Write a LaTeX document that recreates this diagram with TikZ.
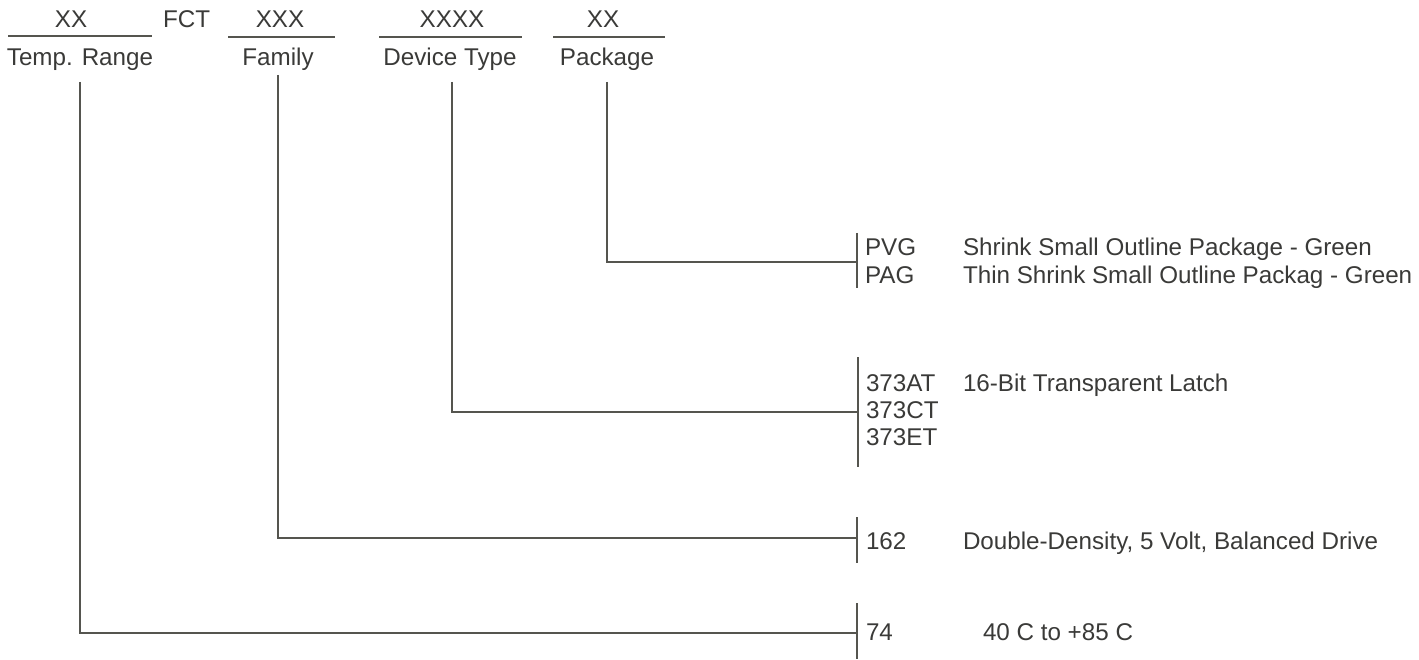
\documentclass[tikz,border=0pt]{standalone}
\usepackage{fontspec}
\setmainfont{Liberation Sans}
\definecolor{txt}{HTML}{3A3A38}
\definecolor{ln}{HTML}{55554F}
\begin{document}
\begin{tikzpicture}[x=1pt,y=-1pt,
  lbl/.style={inner sep=0pt,outer sep=0pt,text=txt,font=\fontsize{24.2}{28}\selectfont},
  lc/.style={lbl,anchor=base},
  lw/.style={lbl,anchor=base west},
  wire/.style={draw=ln,line width=1.4pt},
  bar/.style={draw=ln,line width=1.4pt}]
\useasboundingbox (0,0) rectangle (1419,660);
% top row
\node[lc] (xx1) at (71,28) {XX};
\node[lw] (fct) at (163,28) {FCT};
\node[lc] (xx2) at (280,28) {XXX};
\node[lc] (xx3) at (452,28) {XXXX};
\node[lc] (xx4) at (603,28) {XX};
\draw[wire] (8,36) -- (152,36);
\draw[wire] (228,37) -- (335,37);
\draw[wire] (379,37) -- (522,37);
\draw[wire] (553,37) -- (665,37);
\node[lc] (temp) at (80,66) {Temp. Range};
\node[lc] (fam) at (278,66) {Family};
\node[lc] (dev) at (450,66) {Device Type};
\node[lc] (pkg) at (607,66) {Package};
% bars
\coordinate (pb1) at (857,233); \coordinate (pb2) at (857,288);
\coordinate (db1) at (858,357); \coordinate (db2) at (858,467);
\coordinate (fb1) at (857,517); \coordinate (fb2) at (857,563);
\coordinate (tb1) at (857,603); \coordinate (tb2) at (857,659);
\draw[bar] (pb1) -- (pb2);
\draw[bar] (db1) -- (db2);
\draw[bar] (fb1) -- (fb2);
\draw[bar] (tb1) -- (tb2);
% connector starts
\coordinate (ts) at (80,82);
\coordinate (fs) at (278,75);
\coordinate (ds) at (452,82);
\coordinate (ps) at (607,82);
\coordinate (te) at (857,633);
\coordinate (fe) at (857,538);
\coordinate (de) at (858,412);
\coordinate (pe) at (857,262);
\draw[wire] (ts) |- (te);
\draw[wire] (fs) |- (fe);
\draw[wire] (ds) |- (de);
\draw[wire] (ps) |- (pe);
% right texts
\node[lw] (pvg) at (865,256) {PVG};
\node[lw] (pag) at (865,284) {PAG};
\node[lw] (pvgd) at (963,256) {Shrink Small Outline Package - Green};
\node[lw] (pagd) at (963,284) {Thin Shrink Small Outline Packag - Green};
\node[lw] (a1) at (866,391) {373AT};
\node[lw] (a2) at (866,418) {373CT};
\node[lw] (a3) at (866,445) {373ET};
\node[lw] (ad) at (963,391) {16-Bit Transparent Latch};
\node[lw] (f1) at (866,549) {162};
\node[lw] (fd) at (963,549) {Double-Density, 5 Volt, Balanced Drive};
\node[lw] (t1) at (866,640) {74};
\node[lw] (td) at (983,640) {40 C to +85 C};
\end{tikzpicture}
\end{document}
